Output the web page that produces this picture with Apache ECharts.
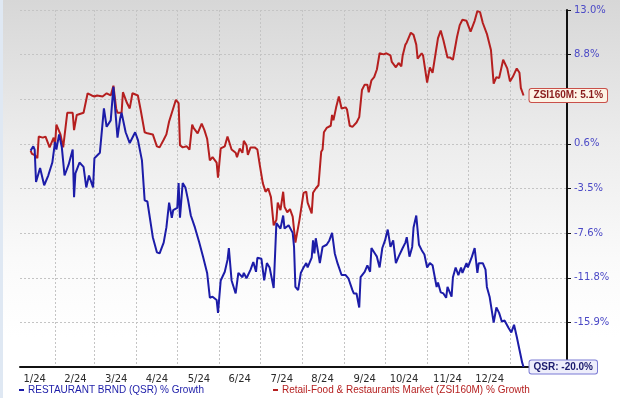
<!DOCTYPE html>
<html>
<head>
<meta charset="utf-8">
<script src="https://cdn.jsdelivr.net/npm/echarts@6/dist/echarts.min.js"></script>
<style>
  html, body { margin: 0; padding: 0; }
  #wrap {
    position: relative;
    width: 620px;
    height: 398px;
    background: linear-gradient(to bottom, #d7d7d7 0%, #ececec 35%, #fafafa 65%, #ffffff 85%);
  }
  #strip { position: absolute; left: 0; top: 0; width: 3px; height: 398px; background: #dfe8f3; }
  #chart { position: absolute; left: 0; top: 0; width: 620px; height: 398px; }
</style>
</head>
<body>
<div id="wrap">
  <div id="strip"></div>
  <div id="chart"></div>
</div>
<script>
  // x values are days since 2024-01-01
  const xMinDay = 5.2
  const xMaxDay = 408
  const monthLabelDays = [16, 46, 76, 106, 137, 167, 198, 228, 259, 288, 320, 351]
  const monthLabels = ['1/24', '2/24', '3/24', '4/24', '5/24', '6/24', '7/24', '8/24', '9/24', '10/24', '11/24', '12/24']

  // right axis labels, bottom to top (two are covered by the end tags)
  const yTickLabels = ['', '-15.9%', '-11.8%', '-7.6%', '-3.5%', '0.6%', '', '8.8%', '13.0%']

  const qsrDays = [
    13, 15, 16, 17, 20, 23, 26, 29, 31, 32,
    34, 36, 38, 41, 44, 45, 46, 49, 52, 54,
    56, 59, 60, 64, 67, 69, 72, 74, 77, 79,
    80, 83, 86, 90, 92, 95, 97, 99, 103, 106,
    108, 111, 113, 115, 117, 118, 121, 122, 123, 125,
    127, 129, 131, 134, 137, 140, 143, 145, 147, 150,
    151, 153, 156, 158, 159, 161, 164, 166, 169, 170,
    172, 175, 177, 179, 180, 183, 185, 187, 189, 192,
    194, 197, 199, 200, 203, 206, 207, 208, 210, 212,
    214, 216, 217, 220, 221, 222, 223, 225, 226, 228,
    231, 233, 235, 237, 239, 242, 245, 247, 250, 251,
    253, 255, 256, 259, 261, 263, 264, 267, 268, 270,
    272, 274, 276, 278, 280, 282, 284, 287, 289, 290,
    292, 294, 295, 297, 299, 301, 303, 305, 307, 309,
    312, 313, 315, 317, 319, 320, 323, 324, 326, 328,
    330, 331, 334, 335, 338, 340, 342, 343, 346, 348,
    349, 351, 354, 356, 358, 360, 362, 365, 367, 369,
    371, 373, 375, 376
  ]
  const qsrValues = [
    0.0, 0.4, 0.1, -2.9, -1.6, -3.2, -2.3, -1.1, 0.8, 0.1,
    1.5, 0.3, -2.3, -1.3, 0.1, -4.3, -2.1, -1.1, -1.5, -3.4,
    -2.3, -3.4, -0.7, -0.2, 3.9, 2.2, 2.8, 5.9, 1.2, 3.0,
    3.5, 1.7, 0.7, 1.7, 1.0, -0.9, -4.6, -4.7, -8.0, -9.4,
    -9.5, -8.5, -7.1, -4.8, -6.2, -5.5, -5.3, -3.0, -6.2, -3.0,
    -3.4, -4.6, -6.0, -7.1, -8.4, -9.8, -11.3, -13.6, -13.5, -13.8,
    -15.0, -12.0, -11.2, -10.1, -9.0, -12.0, -13.2, -11.3, -11.7, -11.3,
    -11.8, -11.0, -10.3, -11.2, -9.9, -10.0, -12.0, -10.4, -10.8, -12.7,
    -6.7, -7.2, -6.0, -7.2, -6.9, -7.6, -8.9, -12.6, -12.9, -11.3,
    -10.8, -10.4, -10.8, -9.9, -8.3, -9.5, -8.1, -9.6, -10.4, -8.9,
    -8.7, -8.3, -7.6, -9.5, -10.4, -11.5, -11.5, -11.8, -12.9, -13.2,
    -13.2, -14.5, -11.7, -11.2, -10.6, -11.2, -9.0, -9.6, -9.8, -10.8,
    -9.0, -8.3, -7.3, -8.9, -8.3, -10.4, -9.8, -9.0, -8.5, -8.0,
    -9.8, -8.9, -7.1, -6.0, -8.7, -9.2, -9.6, -10.8, -10.4, -10.6,
    -12.6, -12.2, -13.1, -13.2, -13.6, -12.6, -13.5, -11.7, -10.8, -11.5,
    -10.8, -11.3, -10.4, -10.8, -9.8, -9.0, -11.3, -10.4, -10.4, -11.0,
    -12.6, -13.5, -15.9, -14.5, -15.0, -15.8, -15.7, -16.4, -16.8, -16.1,
    -17.2, -18.4, -19.6, -20.0
  ]

  const zsiDays = [
    13, 14, 16, 18, 19, 22, 24, 27, 30, 31,
    32, 35, 37, 40, 44, 45, 47, 52, 55, 58,
    60, 62, 66, 69, 72, 74, 76, 77, 80, 81,
    84, 86, 88, 92, 94, 97, 99, 103, 106, 108,
    111, 113, 115, 118, 120, 122, 123, 125, 128, 130,
    132, 133, 136, 137, 139, 141, 143, 145, 147, 150,
    151, 153, 156, 158, 159, 161, 164, 165, 167, 169,
    170, 172, 173, 175, 178, 180, 182, 184, 186, 188,
    190, 192, 194, 195, 197, 199, 200, 202, 204, 206,
    208, 209, 211, 214, 216, 217, 220, 221, 223, 225,
    227, 228, 229, 231, 234, 235, 236, 238, 240, 242,
    245, 246, 248, 250, 253, 255, 257, 259, 261, 262,
    264, 266, 268, 270, 273, 275, 278, 279, 282, 284,
    286, 287, 289, 290, 293, 295, 297, 298, 301, 302,
    305, 307, 309, 313, 315, 317, 320, 322, 324, 327,
    329, 331, 334, 337, 340, 342, 344, 346, 349, 352,
    354, 356, 358, 361, 364, 366, 368, 371, 373, 374,
    376
  ]
  const zsiValues = [
    0.0, -0.3, -0.4, -0.7, 1.3, 1.2, 1.3, 0.3, 1.2, 0.5,
    2.4, 1.5, 0.3, 3.5, 3.5, 1.9, 3.3, 3.5, 5.3, 5.1,
    5.0, 5.1, 5.0, 5.3, 5.1, 6.0, 3.9, 3.5, 3.5, 5.4,
    4.4, 3.9, 5.3, 5.1, 3.8, 1.7, 1.6, 1.5, 0.4, 0.3,
    1.0, 1.5, 2.7, 3.9, 4.7, 4.4, 0.5, 0.3, 0.4, 0.1,
    2.4, 2.1, 1.6, 1.9, 2.5, 1.9, 1.1, -0.9, -0.6, -1.1,
    -2.5, 0.2, 0.4, 1.3, 1.4, 0.1, -0.2, -0.6, 0.2, -0.2,
    0.9, 0.5, -0.4, 0.3, 0.3, 0.1, -1.5, -3.0, -3.8, -3.5,
    -4.3, -6.9, -6.4, -4.8, -5.5, -3.8, -5.2, -5.7, -5.4, -6.1,
    -8.5, -8.4, -6.4, -3.9, -3.8, -4.8, -5.8, -3.9, -3.5, -3.2,
    -0.1, 0.1, 1.7, 2.1, 2.3, 3.3, 2.8, 4.0, 5.0, 3.9,
    4.0, 3.8, 2.3, 2.2, 2.6, 3.1, 5.6, 6.1, 6.1, 5.4,
    6.5, 6.8, 7.5, 9.0, 8.9, 9.0, 8.8, 8.2, 7.7, 8.1,
    7.8, 8.8, 9.8, 10.0, 10.9, 10.7, 9.8, 8.5, 9.0, 8.8,
    6.3, 7.7, 7.2, 10.4, 11.1, 10.2, 8.6, 8.6, 8.4, 10.5,
    11.6, 12.1, 12.0, 11.0, 12.0, 12.9, 12.8, 11.8, 10.8, 9.3,
    6.2, 6.8, 6.7, 8.4, 7.6, 6.4, 6.8, 7.6, 7.2, 5.8,
    5.1
  ]

  const qsrName = 'RESTAURANT BRND (QSR) % Growth'
  const zsiName = 'Retail-Food & Restaurants Market (ZSI160M) % Growth'
  const qsrColor = '#1c1ca8'
  const zsiColor = '#b51f1f'
  const gridColor = '#c4c4c4'

  const DAY = 86400000
  const base = Date.UTC(2024, 0, 1)

  // main plot box
  const gridLeft = 20
  const gridRight = 53
  const plotWidth = 620 - gridLeft - gridRight
  // second box for the month lines stops before Feb 2025, same scale
  const monthGridRight = 78
  const monthMaxDay = xMinDay + (620 - gridLeft - monthGridRight) * (xMaxDay - xMinDay) / plotWidth

  const chart = echarts.init(document.getElementById('chart'), null, { renderer: 'canvas' })

  function endTag(tag, values, color, bg, border) {
    return {
      show: true,
      distance: 6,
      formatter: () => tag + ': ' + values[values.length - 1].toFixed(1) + '%',
      color: color,
      fontFamily: 'Liberation Sans',
      fontWeight: 'bold',
      fontSize: 10,
      backgroundColor: bg,
      borderColor: border,
      borderWidth: 1,
      borderRadius: 2,
      padding: [2, 4, 1, 4]
    }
  }

  function legendFor(name, color, left) {
    return {
      left: left,
      top: 385,
      icon: 'rect',
      itemWidth: 5,
      itemHeight: 2,
      itemGap: 0,
      padding: 0,
      textStyle: { fontFamily: 'Liberation Sans', fontSize: 10, padding: [0, 0, 0, -1] },
      data: [{ name: name, textStyle: { color: color } }]
    }
  }

  chart.setOption({
    animation: false,
    useUTC: true,
    backgroundColor: 'transparent',
    grid: [
      { left: gridLeft, right: gridRight, top: 10, bottom: 31, containLabel: false },
      { left: gridLeft, right: monthGridRight, top: 10, bottom: 31, containLabel: false }
    ],
    legend: [
      legendFor(qsrName, qsrColor, 19),
      legendFor(zsiName, zsiColor, 273)
    ],
    xAxis: [
      {
        type: 'value',
        gridIndex: 0,
        min: xMinDay,
        max: xMaxDay,
        axisLine: { onZero: false, lineStyle: { color: '#111', width: 2 } },
        axisTick: { show: false },
        axisLabel: {
          customValues: monthLabelDays,
          formatter: v => monthLabels[monthLabelDays.indexOf(v)],
          color: '#2a2a2a',
          fontFamily: 'DejaVu Sans',
          fontSize: 10,
          margin: 7
        },
        splitLine: { show: false },
        z: 3
      },
      {
        // month boundary grid lines
        type: 'time',
        gridIndex: 1,
        min: base + xMinDay * DAY,
        max: base + monthMaxDay * DAY,
        splitNumber: 12,
        minInterval: 28 * DAY,
        maxInterval: 31 * DAY,
        axisLine: { show: false },
        axisTick: { show: false },
        axisLabel: { show: false },
        splitLine: {
          show: true,
          showMinLine: false,
          showMaxLine: false,
          lineStyle: { color: gridColor, type: [2, 2], width: 1 }
        }
      }
    ],
    yAxis: [
      {
        type: 'value',
        gridIndex: 0,
        position: 'right',
        min: -20,
        max: 13,
        interval: 4.125,
        axisLine: { show: true, lineStyle: { color: '#111', width: 2 } },
        axisTick: { show: true, inside: false, length: 4, lineStyle: { color: '#111' } },
        axisLabel: {
          formatter: (v, i) => yTickLabels[i],
          color: '#4b49c6',
          fontFamily: 'DejaVu Sans',
          fontSize: 10,
          margin: 7
        },
        splitLine: {
          show: true,
          lineStyle: { color: gridColor, type: [2, 2], width: 1 }
        }
      },
      { type: 'value', gridIndex: 1, min: -20, max: 13, show: false }
    ],
    series: [
      {
        name: qsrName,
        type: 'line',
        xAxisIndex: 0,
        yAxisIndex: 0,
        data: qsrDays.map((d, i) => [d, qsrValues[i]]),
        showSymbol: false,
        smooth: false,
        lineStyle: { color: qsrColor, width: 2 },
        itemStyle: { color: qsrColor },
        endLabel: endTag('QSR', qsrValues, '#1b1b6e', '#eeeefb', '#7a7ad4'),
        z: 3
      },
      {
        name: zsiName,
        type: 'line',
        xAxisIndex: 0,
        yAxisIndex: 0,
        data: zsiDays.map((d, i) => [d, zsiValues[i]]),
        showSymbol: false,
        smooth: false,
        lineStyle: { color: zsiColor, width: 2 },
        itemStyle: { color: zsiColor },
        endLabel: endTag('ZSI160M', zsiValues, '#8a1c1c', '#fdf4e6', '#c9504a'),
        z: 2
      }
    ]
  })
</script>
</body>
</html>
